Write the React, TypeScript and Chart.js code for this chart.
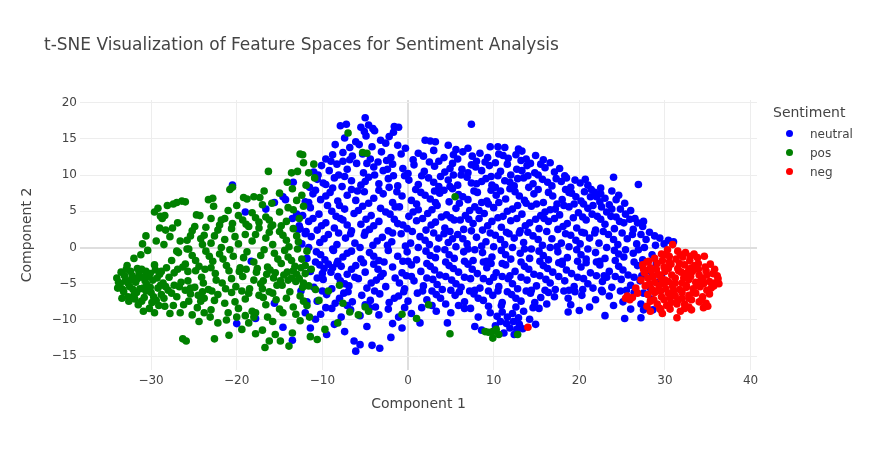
import React, { useEffect, useRef } from 'react';
import Chart from 'chart.js/auto';

type Pt = [number, number];

// t-SNE coordinates, per sentiment class
const neutral: Pt[] = [
  [-5.0,17.9],[-7.9,16.8],[-7.2,17.0],[-5.5,16.6],[-4.6,16.9],[-4.1,16.4],[-1.6,16.7],[-1.1,16.6],[-5.1,16.0],[-3.9,16.1],[7.4,17.0],
  [-7.4,15.1],[-6.1,14.6],[-4.9,15.4],[-3.2,14.8],[-2.2,15.3],[-1.7,15.9],[-8.5,14.2],[2.0,14.8],[2.6,14.7],[3.2,14.6],[4.7,14.1],[5.6,13.5],[-6.8,13.8],[-4.2,13.9],[-1.2,14.1],[10.5,13.9],[11.3,13.8],[12.9,13.6],[13.3,13.3],[9.6,13.9],
  [-9.6,12.2],[-8.8,12.8],[-7.6,13.1],[-6.5,12.6],[-5.3,12.9],[-4.4,12.2],[-3.1,13.2],[-2.0,12.4],[-0.8,12.9],[0.6,12.1],[1.8,12.6],[3.0,13.4],[4.2,12.4],[5.3,12.8],[6.4,13.2],[7.5,12.6],[8.4,13.0],[9.3,12.4],[10.6,12.9],[11.7,12.3],[12.6,12.8],[13.8,12.2],[14.9,12.7],[15.8,12.1],
  [-11.0,10.4],[-10.1,11.3],[-9.2,10.6],[-8.3,11.5],[-7.1,10.8],[-6.0,11.6],[-5.2,10.3],[-4.0,11.1],[-2.9,10.6],[-1.8,11.5],[-0.6,10.9],[0.7,11.4],[1.9,10.5],[3.1,11.2],[4.3,10.4],[5.2,11.6],[6.3,10.8],[7.4,11.4],[8.6,10.6],[9.5,11.3],[10.8,10.5],[11.6,11.5],[12.7,10.8],[13.9,11.3],[14.8,10.3],[16.0,11.0],[17.1,10.4],[18.3,9.9],[2.5,11.8],[8.0,11.9],
  [-11.5,8.3],[-10.6,9.4],[-9.6,8.7],[-8.6,9.6],[-7.7,8.4],[-6.6,9.2],[-5.5,8.6],[-4.6,9.7],[-3.4,8.8],[-2.3,9.5],[-1.2,8.5],[0.1,9.3],[1.2,8.7],[2.4,9.6],[3.6,8.4],[4.7,9.3],[5.8,8.6],[6.9,9.7],[8.0,8.8],[9.1,9.5],[10.2,8.3],[11.3,9.2],[12.4,8.5],[13.5,9.6],[14.6,8.8],[15.7,9.4],[16.8,8.5],[17.9,9.1],[19.0,8.3],[20.1,8.9],[21.4,8.0],[23.8,7.8],[26.9,8.7],[24.0,9.7],[-0.4,9.9],[6.2,10.0],[12.0,10.0],[18.8,7.6],
  [-12.0,6.3],[-11.1,7.4],[-10.2,6.6],[-9.1,7.6],[-8.2,6.4],[-7.1,7.2],[-6.1,6.5],[-5.1,7.7],[-4.0,6.8],[-2.9,7.4],[-1.8,6.2],[-0.7,7.1],[0.4,6.5],[1.5,7.6],[2.6,6.7],[3.7,7.5],[4.8,6.3],[5.9,7.3],[7.0,6.6],[8.1,7.6],[9.2,6.4],[10.3,7.2],[11.4,6.7],[12.5,7.7],[13.6,6.5],[14.7,7.4],[15.8,6.2],[16.9,7.1],[18.0,6.6],[19.1,7.5],[20.2,6.4],[21.3,7.0],[22.4,6.3],[23.5,5.9],[25.3,6.1],[-3.4,7.9],[9.7,7.9],
  [-12.3,4.4],[-11.4,5.5],[-10.4,4.6],[-9.4,5.8],[-8.4,4.3],[-7.4,5.3],[-6.3,4.7],[-5.3,5.7],[-4.3,4.4],[-3.2,5.4],[-2.1,4.6],[-1.0,5.6],[0.1,4.3],[1.2,5.2],[2.3,4.7],[3.4,5.8],[4.5,4.5],[5.6,5.4],[6.7,4.4],[7.8,5.6],[8.9,4.7],[10.0,5.5],[11.1,4.3],[12.2,5.3],[13.3,4.6],[14.4,5.7],[15.5,4.4],[16.6,5.2],[17.7,4.5],[18.8,5.6],[19.9,4.8],[21.0,5.4],[22.1,4.3],[23.2,4.9],[24.3,4.2],[25.4,4.6],[26.5,4.0],[20.5,6.0],
  [-12.6,2.6],[-11.6,3.6],[-10.6,2.4],[-9.6,3.4],[-8.6,2.7],[-7.6,3.8],[-6.6,2.3],[-5.5,3.2],[-4.5,2.5],[-3.4,3.6],[-2.3,2.3],[-1.2,3.3],[-0.1,2.6],[1.0,3.7],[2.1,2.4],[3.2,3.5],[4.3,2.7],[5.4,3.8],[6.5,2.5],[7.6,3.3],[8.7,2.4],[9.8,3.6],[10.9,2.8],[12.0,3.7],[13.1,2.3],[14.2,3.4],[15.3,2.6],[16.4,3.6],[17.5,2.5],[18.6,3.3],[19.7,2.7],[20.8,3.8],[21.9,2.4],[23.0,3.2],[24.1,2.6],[25.2,3.4],[26.3,2.5],[27.4,2.9],[28.8,1.6],[29.4,1.3],[30.4,1.0],[31.0,0.8],
  [-12.4,0.5],[-11.3,1.5],[-10.3,0.7],[-9.3,1.8],[-8.3,0.4],[-7.3,1.3],[-6.2,0.6],[-5.1,1.7],[-4.1,0.3],[-3.0,1.4],[-1.9,0.8],[-0.8,1.9],[0.3,0.6],[1.4,1.5],[2.5,0.4],[3.6,1.3],[4.7,0.7],[5.8,1.8],[6.9,0.5],[8.0,1.4],[9.1,0.8],[10.2,1.7],[11.3,0.4],[12.4,1.3],[13.5,0.7],[14.6,1.6],[15.7,0.3],[16.8,1.2],[17.9,0.6],[19.0,1.7],[20.1,0.5],[21.2,1.3],[22.3,0.6],[23.4,1.8],[24.5,0.4],[25.6,1.2],[26.7,0.5],[27.8,1.1],[28.9,0.3],
  [-11.8,-1.5],[-10.7,-0.6],[-9.7,-1.7],[-8.7,-0.4],[-7.6,-1.3],[-6.6,-0.5],[-5.5,-1.6],[-4.5,-0.7],[-3.4,-1.8],[-2.3,-0.4],[-1.2,-1.2],[-0.1,-0.6],[1.0,-1.7],[2.1,-0.5],[3.2,-1.4],[4.3,-0.3],[5.4,-1.5],[6.5,-0.6],[7.6,-1.8],[8.7,-0.7],[9.8,-1.3],[10.9,-0.4],[12.0,-1.6],[13.1,-0.8],[14.2,-1.5],[15.3,-0.5],[16.4,-1.7],[17.5,-0.6],[18.6,-1.4],[19.7,-0.3],[20.8,-1.6],[21.9,-0.7],[23.0,-1.5],[24.1,-0.4],[25.2,-1.3],[26.3,-0.8],[27.4,-1.7],[28.5,-1.0],
  [-11.4,-3.3],[-10.3,-2.4],[-9.8,-2.9],[-9.3,-2.3],[-8.8,-2.8],[-8.3,-2.2],[-9.0,-3.4],[-10.0,-3.6],[-7.8,-2.6],[-7.1,-3.7],[-6.1,-2.5],[-5.0,-3.4],[-4.0,-2.3],[-2.9,-3.6],[-1.8,-2.7],[-0.7,-3.5],[0.4,-2.4],[1.5,-3.3],[2.6,-2.6],[3.7,-3.8],[4.8,-2.5],[5.9,-3.4],[7.0,-2.3],[8.1,-3.6],[9.2,-2.8],[10.3,-3.5],[11.4,-2.4],[12.5,-3.3],[13.6,-2.6],[14.7,-3.7],[15.8,-2.5],[16.9,-3.4],[18.0,-2.3],[19.1,-3.6],[20.2,-2.7],[21.3,-3.5],[22.4,-2.4],[23.5,-3.3],[24.6,-2.6],[25.7,-3.8],[26.8,-2.5],[27.9,-3.2],[29.0,-2.2],[29.6,-3.9],
  [-11.0,-5.5],[-9.9,-4.4],[-8.9,-5.7],[-7.9,-4.6],[-6.9,-5.3],[-5.8,-4.3],[-4.8,-5.6],[-3.7,-4.5],[-2.6,-5.4],[-1.5,-4.2],[-0.4,-5.7],[0.7,-4.6],[1.8,-5.3],[2.9,-4.4],[4.0,-5.8],[5.1,-4.5],[6.2,-5.5],[7.3,-4.3],[8.4,-5.6],[9.5,-4.7],[10.6,-5.4],[11.7,-4.3],[12.8,-5.7],[13.9,-4.5],[15.0,-5.3],[16.1,-4.4],[17.2,-5.8],[18.3,-4.6],[19.4,-5.4],[20.5,-4.3],[21.6,-5.6],[22.7,-4.7],[23.8,-5.5],[24.9,-4.4],[26.0,-5.2],[27.1,-4.6],[28.3,-5.6],[29.0,-4.8],
  [-10.6,-7.4],[-9.5,-6.5],[-8.5,-7.7],[-7.5,-6.3],[-6.5,-7.5],[-5.4,-6.6],[-4.4,-7.3],[-3.3,-6.4],[-2.2,-7.6],[-1.1,-6.7],[0.0,-7.4],[1.1,-6.3],[2.2,-7.2],[3.3,-6.5],[4.4,-7.8],[5.5,-6.6],[6.6,-7.5],[7.7,-6.4],[8.8,-7.3],[9.9,-6.6],[11.0,-7.6],[12.1,-6.5],[13.2,-7.4],[14.3,-6.3],[15.5,-6.9],[17.1,-6.8],[18.7,-7.0],[20.3,-6.6],[21.9,-7.2],[23.5,-6.7],[25.1,-7.5],[27.2,-7.8],[28.4,-7.1],[26.4,-6.2],
  [-10.2,-9.2],[-8.9,-8.4],[-7.8,-9.6],[-6.7,-8.6],[-5.6,-9.4],[-4.5,-8.3],[-3.4,-9.3],[-2.3,-8.5],[-1.1,-9.6],[0.4,-9.1],[1.6,-8.3],[3.3,-8.8],[5.0,-9.0],[6.6,-8.4],[8.2,-9.6],[9.6,-9.0],[10.4,-9.5],[11.0,-8.9],[11.6,-9.6],[12.2,-9.1],[12.9,-9.7],[13.5,-8.8],[10.8,-10.2],[11.5,-10.5],[12.3,-10.2],[13.0,-10.6],[11.9,-11.1],[12.7,-11.3],[10.2,-10.8],[14.2,-9.9],[15.3,-8.4],[18.7,-8.9],[20.0,-8.7],[23.0,-9.4],[25.3,-9.8],[27.2,-9.7],[28.6,-8.6],[27.5,-8.6],
  [-9.5,-12.0],[-7.4,-11.6],[-6.3,-12.9],[-5.6,-13.4],[-4.2,-13.5],[-6.1,-14.3],[-3.3,-13.9],[-2.0,-12.4],[-0.7,-11.1],[1.4,-10.4],[-8.6,-10.6],[-4.8,-10.9],[-1.8,-10.5],[4.6,-10.4],[7.8,-10.9],[11.2,-11.8],[12.4,-12.0],[13.4,-11.2],[14.9,-10.6],[8.6,-11.4],[-11.4,-11.1],[-10.8,-9.9],
  [4.9,10.9],[7.9,11.1],[10.2,11.7],[13.3,10.6],[15.5,11.5],[17.7,10.9],[-7.6,11.9],[-3.5,11.8],[0.0,10.2],
  [3.0,9.0],[5.3,10.0],[7.4,8.9],[9.7,9.8],[11.9,9.0],[14.0,9.9],[16.3,9.0],[18.5,9.6],[20.7,9.4],[-8.1,10.0],[-5.0,9.1],[-1.7,9.9],[22.5,7.4],
  [2.0,7.2],[4.2,7.9],[6.4,7.0],[8.6,6.2],[10.8,7.8],[13.0,7.1],[15.2,8.0],[17.4,6.0],[19.6,7.0],[21.8,7.6],[23.0,6.8],[-9.6,7.1],[-6.6,8.0],[-1.3,7.7],
  [2.8,5.2],[5.0,4.1],[7.2,5.1],[9.4,6.0],[11.6,5.0],[13.8,6.1],[16.0,4.9],[18.2,5.8],[20.4,4.2],[22.6,5.6],[24.8,5.3],[-8.9,5.0],[-5.8,5.1],[-2.6,4.9],[0.6,4.9],
  [2.7,3.1],[4.9,2.2],[7.1,3.9],[9.3,3.0],[11.5,2.1],[13.7,3.0],[15.9,4.0],[18.1,2.9],[20.3,2.1],[22.5,3.9],[24.7,3.6],[26.8,3.4],[-10.1,3.0],[-7.1,3.1],[-4.0,3.0],[-0.6,3.1],
  [2.0,1.0],[4.2,1.9],[6.4,1.2],[8.6,0.2],[10.8,1.1],[13.0,2.0],[15.2,1.1],[17.4,0.1],[19.6,1.0],[21.8,2.0],[24.0,1.1],[26.2,1.8],[-9.8,1.2],[-6.7,1.9],[-3.6,0.9],[-0.3,0.2],
  [2.6,-1.1],[4.8,-1.0],[7.0,-0.2],[9.2,-1.9],[11.4,-1.0],[13.6,-0.2],[15.8,-1.1],[18.0,-1.9],[20.2,-1.0],[22.4,-1.9],[24.6,-0.9],[26.9,-0.3],[-10.2,-1.0],[-7.1,-0.8],[-4.0,-1.2],[-0.6,-1.9],
  [3.1,-3.1],[5.3,-2.9],[7.5,-3.0],[9.7,-2.2],[11.9,-3.9],[14.1,-3.0],[16.3,-2.9],[18.5,-3.1],[20.8,-2.1],[22.9,-3.9],[25.1,-3.1],[27.3,-3.9],[-6.6,-3.0],[-3.5,-3.0],[-0.2,-3.9],
  [3.4,-5.1],[5.6,-5.0],[7.8,-5.9],[10.0,-4.1],[12.2,-5.0],[14.4,-5.9],[16.6,-4.9],[18.8,-5.9],[21.0,-5.0],[23.2,-4.1],[25.5,-5.9],[-7.4,-5.0],[-4.3,-4.9],[-1.0,-4.9],
  [3.8,-7.0],[6.0,-6.1],[8.2,-7.0],[10.5,-6.0],[12.6,-7.0],[14.8,-7.6],[16.4,-6.2],[19.5,-6.1],[22.7,-6.1],[-8.0,-7.0],[-5.0,-7.9],[-1.6,-7.0],
  [-9.0,11.9],[-6.8,12.1],[-4.8,11.6],[-2.5,12.0],[1.2,13.0],[3.6,11.9],[5.8,12.2],[7.0,13.7],[9.0,11.8],[11.1,12.7],[13.2,12.0],[14.3,11.6],[16.6,11.7],[-0.3,13.7],[-2.6,14.4],[-5.7,14.2],
  [-10.5,10.0],[-9.9,8.9],[-7.4,9.8],[-3.9,10.0],[-2.4,10.8],[1.6,9.9],[3.8,9.8],[4.9,8.4],[7.0,10.3],[8.6,9.1],[10.5,9.9],[12.8,9.5],[15.2,10.0],[17.3,9.5],[19.5,9.3],[21.0,8.6],[22.5,8.2],
  [-10.8,7.9],[-8.8,8.2],[-5.9,7.8],[-2.2,8.3],[0.9,8.0],[3.1,7.8],[5.2,8.1],[7.7,7.8],[9.8,8.6],[11.9,8.1],[14.1,8.3],[16.4,7.6],[18.4,8.0],[20.6,7.7],[22.0,7.0],[24.6,7.2],
  [-11.6,6.2],[-8.0,5.8],[-4.6,6.1],[-1.5,5.6],[1.0,6.0],[3.2,6.2],[6.0,6.1],[8.3,5.1],[10.6,6.2],[12.8,5.8],[15.0,6.0],[17.2,5.3],[19.4,6.0],[21.6,5.8],[23.8,5.3],[26.0,5.1],[24.3,6.6],
  [-11.1,4.0],[-7.9,4.0],[-4.9,3.9],[-1.6,3.9],[1.7,4.0],[3.9,4.2],[6.1,3.8],[8.3,4.0],[10.5,4.1],[12.7,4.0],[14.9,3.9],[17.1,4.0],[19.3,4.1],[21.5,4.6],[23.7,4.3],[25.9,3.9],[27.5,3.6],[28.2,2.1],
  [-11.9,2.2],[-8.1,2.0],[-5.0,2.1],[-1.8,2.0],[0.5,2.2],[3.0,2.0],[5.2,1.2],[7.4,2.3],[9.6,2.0],[11.8,1.9],[14.0,2.1],[16.2,2.2],[18.4,1.9],[20.6,2.0],[22.8,2.2],[25.0,2.0],[27.2,1.8],[29.9,0.5],
  [-11.6,0.0],[-8.8,-0.2],[-5.6,0.0],[-2.4,0.3],[1.2,0.0],[3.4,-0.2],[5.6,0.1],[7.8,-0.3],[10.0,0.1],[12.2,0.0],[14.4,-0.2],[16.6,0.0],[18.8,0.1],[21.0,-0.2],[23.2,0.0],[25.4,-0.3],[27.6,0.0],
  [-10.8,-2.0],[-8.2,-1.9],[-5.2,-2.1],[-2.8,-2.0],[0.0,-1.9],[2.2,-2.2],[4.4,-2.0],[6.6,-1.9],[8.8,-2.0],[11.0,-2.2],[13.2,-2.0],[15.4,-1.9],[17.6,-2.1],[19.8,-1.9],[22.0,-2.0],[24.2,-1.8],[26.4,-2.0],
  [-10.6,-4.2],[-8.2,-4.0],[-6.2,-4.1],[-3.2,-4.0],[0.4,-4.0],[2.2,-4.2],[4.4,-4.0],[6.6,-4.1],[8.8,-4.3],[11.0,-4.0],[13.2,-4.1],[15.4,-3.9],[17.6,-4.0],[19.8,-4.1],[22.0,-3.9],[24.2,-4.0],[26.4,-4.1],[28.5,-3.9],
  [-10.0,-6.0],[-7.0,-6.1],[-3.9,-6.0],[-0.5,-6.1],[1.7,-6.0],[2.8,-6.0],[5.0,-5.9],[7.2,-6.0],[9.4,-6.0],[11.6,-6.1],[13.8,-6.0],[16.0,-5.9],[18.2,-6.0],[20.4,-5.8],[22.6,-5.9],[24.8,-6.0],[27.5,-6.3],
  [-9.6,-8.3],[-7.1,-8.0],[-3.8,-8.2],[-0.4,-8.3],[2.8,-8.0],[5.9,-8.0],[7.3,-8.4],[9.4,-8.1],[10.9,-8.0],[12.6,-8.2],[14.6,-8.3],[16.2,-7.8],[19.0,-7.9],[21.2,-8.2],[24.0,-8.0],[26.0,-8.5],
  [-20.5,8.6],[-19.0,4.9],[-16.6,5.3],[-14.6,7.0],[-14.3,6.6],[-15.6,6.2],[-13.4,9.0],[-13.0,4.6],[-13.5,4.0],[-12.7,3.0],[-12.0,1.9],[-12.8,2.5],[-18.3,-1.9],[-15.6,-7.7],[-17.8,-9.8],[-14.6,-11.0],[-20.0,-10.5],[-12.5,-6.0],[-11.8,-7.5],[-12.0,-9.0],[-13.5,-12.8],
];

const pos: Pt[] = [
  [-34.0,-4.2],[-33.6,-5.0],[-33.5,-3.4],[-33.2,-6.1],[-33.0,-4.6],[-32.8,-2.5],[-32.6,-7.4],[-32.5,-5.4],[-32.2,-3.9],[-32.0,-6.6],[-31.8,-4.8],[-31.6,-2.9],[-31.5,-7.9],[-31.3,-5.7],[-31.0,-4.1],[-30.8,-6.9],[-30.6,-3.3],[-30.5,-5.1],[-30.2,-8.4],[-30.0,-6.2],[-29.8,-4.5],[-29.6,-2.4],[-29.4,-7.3],[-29.2,-5.6],[-29.0,-3.7],[-28.8,-6.5],[-28.6,-4.9],[-28.4,-8.1],[-28.2,-2.8],[-28.0,-5.9],
  [-33.9,-5.6],[-32.9,-3.0],[-32.3,-4.4],[-31.4,-3.5],[-30.9,-5.6],[-30.3,-4.0],[-29.9,-7.6],[-29.3,-4.2],[-28.9,-5.2],[-31.9,-7.1],[-33.4,-7.0],[-32.0,-1.5],[-31.2,-1.0],[-30.4,-0.4],[-30.9,-8.8],[-29.6,-9.0],[-27.8,-9.1],
  [-33.8,-4.8],[-33.3,-5.8],[-33.1,-3.9],[-32.7,-6.8],[-32.7,-4.9],[-32.4,-3.3],[-32.1,-5.8],[-31.7,-6.2],[-31.6,-4.3],[-31.1,-3.0],[-31.1,-7.4],[-30.7,-4.6],[-30.6,-6.0],[-30.1,-3.6],[-30.1,-5.5],[-29.7,-6.8],[-29.5,-3.1],[-29.1,-8.0],[-28.8,-3.3],[-28.5,-7.0],[-28.3,-5.4],[-27.9,-4.1],[-27.6,-6.3],[-27.3,-5.2],[-26.9,-3.0],[-26.7,-5.4],[-26.3,-2.7],[-25.7,-4.6],[-25.4,-5.6],[-24.8,-3.2],[-24.5,-6.6],[-23.9,-4.9],[-22.9,-6.0],[-22.4,-4.5],[-20.6,-4.3],[-19.7,-3.3],[-18.0,-4.5],[-17.2,-5.0],[-16.5,-3.7],[-15.5,-3.5],[-14.7,-5.2],[-14.1,-3.4],[-13.0,-3.7],[-12.3,-5.5],[-12.5,-2.8],
  [-31.0,0.5],[-30.6,1.6],[-29.6,4.9],[-29.2,5.4],[-28.9,4.3],[-28.7,4.0],[-28.4,4.4],[-28.1,5.8],[-27.4,6.0],[-27.0,6.2],[-26.4,6.4],[-26.0,6.3],[-29.0,2.7],[-28.3,2.4],[-27.5,2.7],[-26.9,3.4],[-29.4,0.9],[-28.5,0.4],[-27.8,1.5],[-26.6,0.9],[-25.4,1.6],[-24.7,4.5],[-24.3,4.4],[-25.2,2.3],[-24.0,0.4],[-23.6,2.8],[-23.3,6.6],[-22.8,6.8],[-27.0,-0.5],[-25.8,-0.2],
  [-20.8,8.0],[-20.5,8.3],[-19.2,6.9],[-18.8,6.7],[-17.3,6.9],[-16.8,7.8],[-15.9,6.1],[-14.1,9.0],[-13.6,10.3],[-12.9,10.5],[-13.5,8.1],[-16.3,10.5],[-12.4,7.2],[-11.9,8.6],[-22.7,5.7],
  [-12.6,12.9],[-12.3,12.8],[-7.0,15.8],[-4.8,13.0],[-5.3,13.1],[-11.0,11.5],[-11.6,10.3],[-10.9,9.6],[-12.2,11.7],
  [-22.0,3.1],[-21.4,4.0],[-20.5,3.3],[-19.8,4.4],[-18.9,3.2],[-18.2,4.8],[-17.4,3.5],[-16.6,4.2],[-15.8,3.1],[-15.0,4.9],[-14.2,3.6],[-13.4,5.2],[-12.2,5.7],[-20.0,5.8],[-17.0,5.9],[-14.0,5.5],[-21.0,5.1],[-23.0,4.0],[-12.7,4.0],
  [-25.8,1.0],[-24.9,2.9],[-23.8,1.7],[-23.0,0.6],[-22.2,2.4],[-21.4,1.1],[-20.6,2.6],[-19.8,0.5],[-19.0,1.8],[-18.2,0.9],[-17.4,2.7],[-16.6,1.3],[-15.8,0.4],[-15.0,2.2],[-14.2,1.0],[-13.4,2.6],[-12.8,0.8],[-21.8,0.0],[-18.6,2.9],[-16.0,2.9],[-13.9,0.1],
  [-27.6,-1.8],[-26.8,-0.7],[-26.0,-2.3],[-25.2,-1.1],[-24.4,-2.6],[-23.6,-0.5],[-22.8,-1.9],[-22.0,-0.9],[-21.2,-2.5],[-20.4,-1.2],[-19.6,-2.8],[-18.8,-0.6],[-18.0,-2.0],[-17.2,-1.1],[-16.4,-2.7],[-15.6,-0.8],[-14.8,-2.2],[-14.0,-1.3],[-13.2,-2.6],[-12.4,-1.6],[-11.8,-0.5],[-25.6,-0.2],[-23.0,-2.8],[-20.8,-0.3],[-17.6,-2.9],[-15.2,-1.6],[-12.9,-0.2],
  [-24.8,-1.8],[-23.2,-1.2],[-21.6,-1.6],[-19.2,-1.4],[-16.8,-0.3],[-14.4,-0.4],[-13.6,-1.8],[-12.0,-2.5],[-24.2,1.2],[-22.6,1.6],[-20.2,1.5],[-17.8,1.8],[-16.2,2.1],[-14.6,1.7],[-13.0,1.6],[-21.8,3.8],[-19.3,3.8],[-17.8,4.1],[-16.2,3.8],[-14.8,3.0],[-13.0,6.5],[-15.0,7.5],[-18.0,7.0],
  [-27.3,-3.5],[-26.5,-4.8],[-25.7,-3.3],[-24.9,-5.5],[-24.1,-4.1],[-23.3,-5.8],[-22.5,-3.6],[-21.7,-4.9],[-20.9,-3.2],[-20.1,-5.4],[-19.3,-4.0],[-18.5,-5.7],[-17.7,-3.4],[-16.9,-4.6],[-16.1,-3.1],[-15.3,-5.2],[-14.5,-3.8],[-14.0,-4.5],[-13.6,-4.2],[-13.1,-4.7],[-12.7,-4.3],[-12.2,-4.9],[-12.0,-3.6],[-13.4,-3.2],[-14.9,-4.6],[-15.7,-4.2],[-26.0,-5.9],[-23.7,-3.0],[-21.3,-5.7],[-18.9,-3.0],[-17.0,-5.7],[-11.6,-5.3],
  [-27.0,-6.8],[-26.2,-7.9],[-25.4,-6.4],[-24.6,-8.3],[-23.8,-7.0],[-23.0,-8.6],[-22.2,-6.5],[-21.4,-7.7],[-20.6,-6.2],[-19.8,-8.4],[-19.0,-7.1],[-18.2,-8.8],[-17.4,-6.6],[-16.6,-7.9],[-15.8,-6.3],[-15.0,-8.5],[-14.2,-7.0],[-13.4,-8.2],[-12.6,-6.7],[-11.8,-8.0],[-21.0,-9.0],[-17.8,-9.0],[-14.6,-9.0],[-24.0,-6.1],[-19.4,-6.0],[-16.2,-6.1],
  [-25.6,-7.4],[-24.2,-7.4],[-22.6,-7.3],[-20.2,-7.5],[-18.6,-6.3],[-16.9,-6.9],[-15.4,-7.2],[-13.8,-6.1],[-12.2,-7.4],[-23.8,-9.0],[-19.0,-9.4],[-16.4,-9.6],[-13.1,-9.2],[-11.5,-9.6],[-27.4,-8.0],[-26.6,-9.0],[-25.2,-9.3],
  [-26.3,-12.6],[-25.9,-12.9],[-24.4,-10.2],[-23.1,-9.6],[-22.2,-10.4],[-21.2,-10.0],[-20.9,-12.1],[-20.0,-9.6],[-19.4,-11.3],[-18.6,-10.4],[-17.8,-11.9],[-17.0,-11.4],[-16.2,-12.9],[-16.7,-13.8],[-15.5,-12.0],[-15.8,-10.2],[-14.9,-12.9],[-13.9,-13.6],[-13.5,-11.8],[-12.6,-10.1],[-11.4,-12.3],[-10.6,-12.7],[-18.0,-9.6],[-22.6,-12.6],
  [-7.6,-7.7],[-6.8,-8.9],[-5.8,-9.3],[-5.0,-8.2],[-4.6,-8.8],[-8.2,-10.4],[-9.7,-11.3],[-0.7,-9.2],[1.0,-9.8],[2.4,-7.9],[4.9,-11.9],[9.0,-11.6],[9.4,-11.7],[9.9,-11.6],[10.3,-11.3],[10.6,-12.0],[9.9,-12.5],[12.8,-12.0],[5.5,7.0],[-11.3,-3.0],[-10.8,-5.8],[-10.4,-7.3],[-9.3,-6.0],[-8.0,-5.2],
];

const neg: Pt[] = [
  [30.9,0.4],[30.3,-0.3],[31.5,-0.5],[32.4,-0.7],[29.6,-0.9],[33.4,-0.9],
  [28.8,-1.5],[29.7,-1.8],[30.5,-1.2],[31.3,-1.6],[32.1,-1.3],[32.9,-1.8],[33.8,-1.4],[34.6,-1.2],[28.1,-1.9],
  [27.4,-2.4],[28.3,-2.8],[29.1,-2.2],[29.9,-2.7],[30.7,-2.3],[31.5,-2.9],[32.3,-2.4],[33.1,-2.8],[33.9,-2.2],[34.7,-2.7],[35.3,-2.3],[27.9,-2.0],
  [27.6,-3.5],[28.4,-3.2],[29.2,-3.7],[30.0,-3.3],[30.8,-3.8],[31.6,-3.2],[32.4,-3.6],[33.2,-3.3],[34.0,-3.8],[34.8,-3.2],[35.6,-3.6],[36.1,-3.9],
  [27.2,-4.5],[28.0,-4.2],[28.8,-4.8],[29.6,-4.3],[30.4,-4.7],[31.2,-4.2],[32.0,-4.9],[32.8,-4.4],[33.6,-4.8],[34.4,-4.3],[35.2,-4.7],[36.2,-4.3],
  [27.7,-5.3],[28.5,-5.8],[29.3,-5.2],[30.1,-5.7],[30.9,-5.3],[31.7,-5.8],[32.5,-5.2],[33.3,-5.7],[34.1,-5.4],[34.9,-5.9],[35.7,-5.3],[26.6,-5.6],
  [28.0,-6.5],[28.8,-6.2],[29.6,-6.8],[30.4,-6.3],[31.2,-6.7],[32.0,-6.2],[32.8,-6.6],[33.6,-6.3],[34.4,-6.8],[35.2,-6.4],[26.8,-6.3],
  [28.3,-7.4],[29.1,-7.8],[29.9,-7.2],[30.7,-7.6],[31.5,-7.3],[32.3,-7.8],[33.1,-7.2],[34.0,-7.5],[34.8,-7.7],[25.4,-7.0],[25.9,-7.2],[26.2,-6.9],[25.6,-6.7],
  [28.3,-8.8],[29.4,-8.4],[29.7,-9.1],[30.6,-8.5],[31.4,-9.7],[32.3,-8.4],[33.1,-8.6],[34.5,-8.3],[35.0,-8.1],[27.9,-8.1],
  [29.0,-3.0],[30.5,-2.0],[31.9,-3.4],[33.5,-2.5],[30.0,-4.5],[32.5,-5.5],[31.0,-6.0],[33.0,-4.0],[34.5,-5.0],[29.5,-6.0],[30.2,-8.0],[32.8,-7.0],[35.8,-4.9],[28.6,-4.0],[31.8,-1.0],
  [27.5,-3.0],[28.2,-5.0],[28.9,-6.0],[29.4,-3.9],[29.9,-5.0],[30.4,-2.9],[30.6,-6.9],[31.2,-4.9],[31.4,-7.8],[31.7,-2.2],[32.2,-4.2],[32.0,-7.0],[32.8,-3.0],[33.3,-6.2],[33.7,-5.2],[33.9,-3.0],[34.3,-7.2],[34.2,-4.6],[34.9,-3.8],[35.4,-5.6],[35.8,-3.0],[36.3,-5.0],[30.0,-1.0],[33.0,-1.2],[28.7,-7.2],[29.5,-8.6],[31.8,-8.8],[32.8,-8.2],
  [14.0,-11.0],
];

const seriesNames = ['neutral', 'pos', 'neg'];
const seriesData = [neutral, pos, neg];
const xTicks = [-30, -20, -10, 0, 10, 20, 30, 40];
const yTicks = [-15, -10, -5, 0, 5, 10, 15, 20];

const colors = ['#0000ff', '#008000', '#ff0000'];
const FONT = '"DejaVu Sans", Verdana, sans-serif';
const TEXT = '#444';

const fmt = (v: number) => (v < 0 ? '\u2212' + Math.abs(v) : String(v));

const App: React.FC = () => {
  const canvasRef = useRef<HTMLCanvasElement>(null);
  const chartRef = useRef<Chart | null>(null);

  useEffect(() => {
    if (!canvasRef.current) return;
    if (chartRef.current) chartRef.current.destroy();

    const gridColor = (ctx: any) => (ctx.tick && ctx.tick.value === 0 ? '#dedede' : '#ededed');
    const gridWidth = (ctx: any) => (ctx.tick && ctx.tick.value === 0 ? 2 : 1);

    chartRef.current = new Chart(canvasRef.current, {
      type: 'scatter',
      data: {
        datasets: seriesData.map((pts, i) => ({
          label: seriesNames[i],
          data: pts.map(([x, y]) => ({ x, y })),
          backgroundColor: colors[i],
          borderWidth: 0,
          pointRadius: 3.8,
          pointHoverRadius: 3.8,
          order: 3 - i,
        })),
      },
      options: {
        responsive: false,
        animation: false,
        layout: { padding: { top: 100, right: 113, left: 0, bottom: 0 } },
        plugins: {
          legend: { display: false },
          title: { display: false },
          tooltip: { enabled: false },
        },
        scales: {
          x: {
            type: 'linear',
            min: -38.3,
            max: 40.75,
            afterBuildTicks: (s: any) => {
              s.ticks = xTicks.map((v) => ({ value: v }));
            },
            afterFit: (s: any) => {
              s.height = 80;
            },
            border: { display: false },
            grid: { color: gridColor, lineWidth: gridWidth, drawTicks: false, tickLength: 0 },
            ticks: {
              padding: 4,
              color: TEXT,
              font: { family: FONT, size: 12 },
              maxRotation: 0,
              callback: (v: any) => fmt(Number(v)),
            },
            title: {
              display: true,
              text: 'Component 1',
              color: TEXT,
              font: { family: FONT, size: 14 },
              padding: { top: 0, bottom: 37 },
            },
          },
          y: {
            type: 'linear',
            min: -16.9,
            max: 20.35,
            afterBuildTicks: (s: any) => {
              s.ticks = yTicks.map((v) => ({ value: v }));
            },
            afterFit: (s: any) => {
              s.width = 80;
            },
            border: { display: false },
            grid: { color: gridColor, lineWidth: gridWidth, drawTicks: false, tickLength: 0 },
            ticks: {
              padding: 3,
              color: TEXT,
              font: { family: FONT, size: 12 },
              callback: (v: any) => fmt(Number(v)),
            },
            title: {
              display: true,
              text: 'Component 2',
              color: TEXT,
              font: { family: FONT, size: 14 },
              padding: { top: 19, bottom: 0 },
            },
          },
        },
      },
    });

    return () => {
      if (chartRef.current) {
        chartRef.current.destroy();
        chartRef.current = null;
      }
    };
  }, []);

  return (
    <div style={{ position: 'fixed', left: 0, top: 0, width: 870, height: 450, background: '#fff', fontFamily: FONT, color: TEXT }}>
      <canvas ref={canvasRef} width={870} height={450} style={{ position: 'absolute', left: 0, top: 0 }} />
      <div style={{ position: 'absolute', left: 44, top: 34, fontSize: 17, whiteSpace: 'nowrap' }}>
        t-SNE Visualization of Feature Spaces for Sentiment Analysis
      </div>
      <div style={{ position: 'absolute', left: 773, top: 104, fontSize: 14 }}>Sentiment</div>
      {seriesNames.map((name, i) => (
        <div key={name} style={{ position: 'absolute', left: 786, top: 124 + i * 19, height: 19, display: 'flex', alignItems: 'center', fontSize: 12 }}>
          <span style={{ width: 7, height: 7, borderRadius: '50%', background: colors[i], display: 'inline-block' }} />
          <span style={{ marginLeft: 17 }}>{name}</span>
        </div>
      ))}
    </div>
  );
};

export default App;
